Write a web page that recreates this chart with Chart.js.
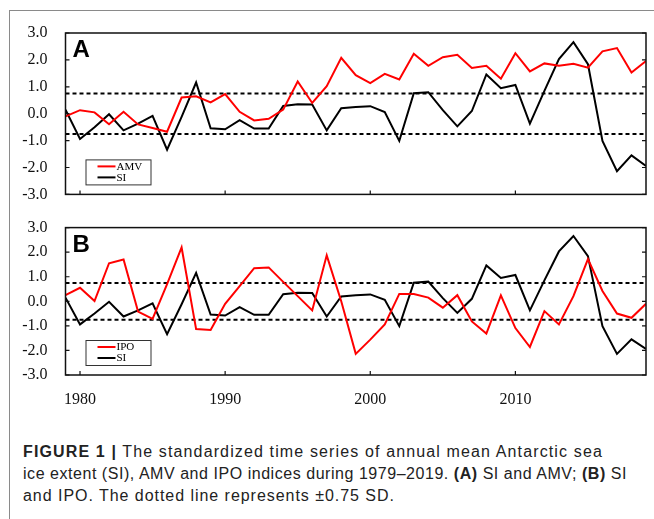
<!DOCTYPE html>
<html>
<head>
<meta charset="utf-8">
<script src="https://cdn.jsdelivr.net/npm/chart.js@4.4.0/dist/chart.umd.min.js"></script>
<style>
  html, body { margin: 0; padding: 0; background: #fff; }
  body { width: 654px; height: 519px; position: relative; overflow: hidden; }
  .frame { position: absolute; left: 9px; top: 10px; width: 660px; height: 520px;
           border-left: 1px solid #8a8a8a; border-top: 1px solid #8a8a8a; }
  .panel { position: absolute; left: 0; width: 654px; }
  #panelA { top: 0; height: 222px; }
  #panelB { top: 200px; height: 220px; }
  .caption { position: absolute; left: 23px; top: 441px; font-family: "Liberation Sans", Arial, sans-serif;
             font-size: 16px; line-height: 22px; color: #222; }
  .caption div { white-space: nowrap; display: table; }
  b { font-weight: bold; }
</style>
</head>
<body>
<div class="frame"></div>
<div class="panel" id="panelA"><canvas id="chartA"></canvas></div>
<div class="panel" id="panelB"><canvas id="chartB"></canvas></div>
<div class="caption">
  <div data-w="580"><b>FIGURE 1 |</b> The standardized time series of annual mean Antarctic sea</div>
  <div data-w="604">ice extent (SI), AMV and IPO indices during 1979–2019. <b>(A)</b> SI and AMV; <b>(B)</b> SI</div>
  <div data-w="372">and IPO. The dotted line represents ±0.75 SD.</div>
</div>
<script>
// Données
const years = [1979, 1980, 1981, 1982, 1983, 1984, 1985, 1986, 1987, 1988,
  1989, 1990, 1991, 1992, 1993, 1994, 1995, 1996, 1997, 1998,
  1999, 2000, 2001, 2002, 2003, 2004, 2005, 2006, 2007, 2008,
  2009, 2010, 2011, 2012, 2013, 2014, 2015, 2016, 2017, 2018, 2019];

const si = [0.15, -0.94, -0.5, -0.02, -0.62, -0.37, -0.08, -1.34, -0.12, 1.16,
  -0.54, -0.58, -0.24, -0.55, -0.55, 0.29, 0.35, 0.34, -0.62, 0.2,
  0.25, 0.28, 0.06, -1.01, 0.76, 0.8, 0.13, -0.47, 0.1, 1.46,
  0.95, 1.07, -0.37, 0.85, 2.03, 2.66, 1.84, -1.01, -2.14, -1.55, -1.94];

const amv = [-0.1, 0.13, 0.05, -0.39, 0.07, -0.4, -0.53, -0.67, 0.6, 0.65,
  0.42, 0.73, 0.07, -0.25, -0.19, 0.15, 1.2, 0.4, 1.02, 2.08,
  1.43, 1.14, 1.48, 1.27, 2.23, 1.78, 2.1, 2.19, 1.7, 1.78,
  1.3, 2.25, 1.57, 1.87, 1.78, 1.86, 1.71, 2.32, 2.44, 1.53, 1.96];

const ipo = [0.25, 0.55, 0.01, 1.55, 1.7, -0.42, -0.72, 0.7, 2.19, -1.13,
  -1.17, -0.1, 0.62, 1.35, 1.38, 0.79, 0.21, -0.37, 1.87, 0.0,
  -2.14, -1.56, -0.94, 0.3, 0.3, 0.15, -0.26, 0.25, -0.82, -1.31,
  0.24, -1.09, -1.86, -0.4, -0.94, 0.21, 1.72, 0.42, -0.5, -0.67, -0.1];

const xTicks = [1980, 1990, 2000, 2010];
const yTicks = [-3, -2, -1, 0, 1, 2, 3];
const sdLimit = 0.75; // ±0.75 SD

const serif = '"Liberation Serif", "Times New Roman", serif';

function toPoints(values) {
  return values.map((v, i) => ({ x: years[i], y: v }));
}

function limitLine(v) {
  return [{ x: years[0], y: v }, { x: years[years.length - 1], y: v }];
}

// Cadre, petites graduations vers l'intérieur, lettre du panneau et légende
const framePlugin = {
  id: 'frame',
  afterDatasetsDraw(chart, args, opts) {
    const { ctx, chartArea: a, scales } = chart;
    ctx.save();
    ctx.strokeStyle = '#111';
    ctx.lineWidth = 1.5;
    ctx.strokeRect(a.left, a.top, a.right - a.left, a.bottom - a.top);
    ctx.beginPath();
    yTicks.forEach(v => {
      const y = scales.y.getPixelForValue(v);
      ctx.moveTo(a.left, y); ctx.lineTo(a.left + 4, y);
      ctx.moveTo(a.right, y); ctx.lineTo(a.right - 4, y);
    });
    xTicks.forEach(v => {
      const x = scales.x.getPixelForValue(v);
      ctx.moveTo(x, a.bottom); ctx.lineTo(x, a.bottom - 4);
    });
    ctx.lineWidth = 1.2;
    ctx.stroke();

    // lettre
    ctx.fillStyle = '#000';
    ctx.font = 'bold 24px "Liberation Sans", Arial, sans-serif';
    ctx.textBaseline = 'alphabetic';
    ctx.fillText(opts.letter, a.left + 7, a.top + 24);

    // légende
    const bx = a.left + 20, by = a.bottom - 35, bw = 65, bh = 25;
    ctx.fillStyle = '#fff';
    ctx.fillRect(bx, by, bw, bh);
    ctx.strokeStyle = '#333';
    ctx.lineWidth = 1;
    ctx.strokeRect(bx + 0.5, by + 0.5, bw, bh);
    ctx.font = '11px ' + serif;
    ctx.textBaseline = 'middle';
    opts.items.forEach((it, i) => {
      const y = by + 7 + i * 11;
      ctx.strokeStyle = it.color;
      ctx.lineWidth = 2;
      ctx.beginPath();
      ctx.moveTo(bx + 12, y); ctx.lineTo(bx + 30, y);
      ctx.stroke();
      ctx.fillStyle = '#000';
      ctx.fillText(it.label, bx + 31, y + 0.5);
    });
    ctx.restore();
  }
};

function makeChart(id, redLabel, redValues, letter, showX, padding) {
  const ctx = document.getElementById(id).getContext('2d');
  return new Chart(ctx, {
    type: 'line',
    data: {
      datasets: [
        { label: redLabel, data: toPoints(redValues), borderColor: '#ff0000', borderWidth: 2 },
        { label: 'SI', data: toPoints(si), borderColor: '#000', borderWidth: 2 },
        { label: '+0.75', data: limitLine(sdLimit), borderColor: '#000', borderWidth: 2, borderDash: [4, 3] },
        { label: '-0.75', data: limitLine(-sdLimit), borderColor: '#000', borderWidth: 2, borderDash: [4, 3] }
      ]
    },
    options: {
      responsive: true,
      maintainAspectRatio: false,
      animation: false,
      layout: { padding: padding },
      elements: { point: { radius: 0 }, line: { tension: 0 } },
      plugins: {
        legend: { display: false },
        tooltip: { enabled: false },
        frame: {
          letter: letter,
          items: [{ label: redLabel, color: '#ff0000' }, { label: 'SI', color: '#000' }]
        }
      },
      scales: {
        x: {
          type: 'linear',
          min: years[0],
          max: years[years.length - 1],
          display: showX,
          afterBuildTicks: s => { s.ticks = xTicks.map(v => ({ value: v })); },
          afterFit: s => { if (showX) s.height = 45; },
          grid: { display: false, drawTicks: false },
          border: { display: false },
          ticks: { font: { family: serif, size: 16 }, color: '#111', padding: 15, maxRotation: 0,
                   callback: v => String(v) }
        },
        y: {
          min: -3,
          max: 3,
          afterBuildTicks: s => { s.ticks = yTicks.map(v => ({ value: v })); },
          afterFit: s => { s.width = 65.5; },
          grid: { display: false, drawTicks: false },
          border: { display: false },
          ticks: { font: { family: serif, size: 16 }, color: '#111', padding: 18, autoSkip: false,
                   callback: v => v.toFixed(1) }
        }
      }
    },
    plugins: [framePlugin]
  });
}

makeChart('chartA', 'AMV', amv, 'A', false, { top: 33, right: 8, bottom: 11, left: 0 });
makeChart('chartB', 'IPO', ipo, 'B', true, { top: 13, right: 8, bottom: 0, left: 0 });

// Ajuste l'espacement de la légende de la figure à la largeur des lignes
document.querySelectorAll('.caption div').forEach(line => {
  const target = Number(line.dataset.w);
  const n = line.textContent.length;
  const w = line.getBoundingClientRect().width;
  line.style.letterSpacing = ((target - w) / n).toFixed(2) + 'px';
});
</script>
</body>
</html>
